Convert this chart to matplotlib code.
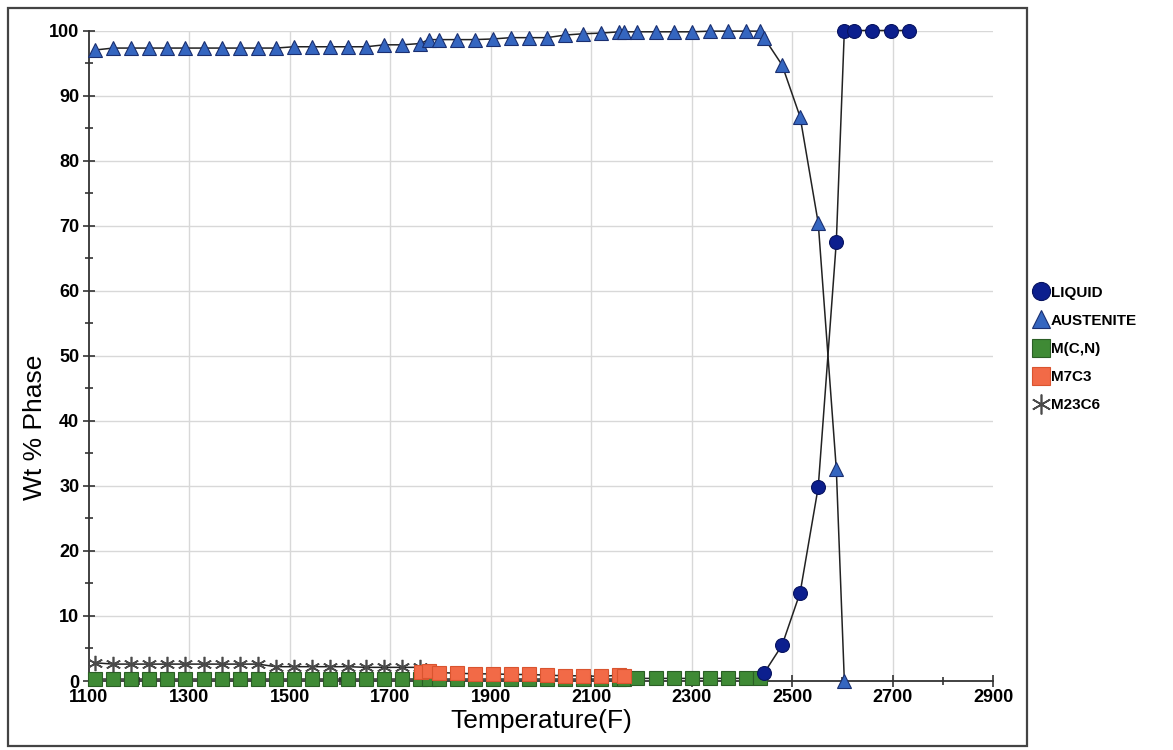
import matplotlib
matplotlib.use("Agg")
import matplotlib.pyplot as plt
from matplotlib.ticker import MultipleLocator
from matplotlib.patches import Rectangle

plt.rcParams['font.family'] = ['Liberation Sans', 'DejaVu Sans']

# ---- phase fraction data (temperature in F, weight percent) ----
liquid_T = [2444, 2480, 2516, 2552, 2588, 2604, 2624, 2660, 2696, 2732]
liquid_wt = [1.2, 5.5, 13.6, 29.8, 67.5, 100.0, 100.0, 100.0, 100.0, 100.0]

austenite_T = [1112, 1148, 1184, 1220, 1256, 1292, 1328, 1364, 1400, 1436,
               1472, 1508, 1544, 1580, 1616, 1652, 1688, 1724, 1760, 1776,
               1796, 1832, 1868, 1904, 1940, 1976, 2012, 2048, 2084, 2120,
               2156, 2165, 2192, 2228, 2264, 2300, 2336, 2372, 2408, 2437,
               2444, 2480, 2516, 2552, 2588, 2604]
austenite_wt = [97.0, 97.3, 97.3, 97.3, 97.3, 97.3, 97.3, 97.3, 97.3, 97.3,
                97.3, 97.5, 97.5, 97.5, 97.5, 97.5, 97.8, 97.8, 98.0, 98.6,
                98.6, 98.6, 98.6, 98.7, 98.9, 98.9, 98.9, 99.3, 99.5, 99.6,
                99.8, 99.8, 99.8, 99.8, 99.8, 99.8, 99.9, 99.9, 99.9, 99.9,
                98.9, 94.7, 86.7, 70.4, 32.6, 0.0]

mcn_T = [1112, 1148, 1184, 1220, 1256, 1292, 1328, 1364, 1400, 1436,
         1472, 1508, 1544, 1580, 1616, 1652, 1688, 1724, 1760, 1776,
         1796, 1832, 1868, 1904, 1940, 1976, 2012, 2048, 2084, 2120,
         2156, 2165, 2192, 2228, 2264, 2300, 2336, 2372, 2408, 2437]
mcn_wt = [0.3, 0.3, 0.3, 0.3, 0.3, 0.3, 0.3, 0.3, 0.3, 0.3,
          0.3, 0.3, 0.3, 0.3, 0.3, 0.3, 0.3, 0.3, 0.3, 0.3,
          0.3, 0.3, 0.3, 0.3, 0.3, 0.3, 0.3, 0.3, 0.3, 0.3,
          0.3, 0.3, 0.4, 0.4, 0.4, 0.4, 0.4, 0.4, 0.4, 0.4]

m7c3_T = [1762, 1776, 1796, 1832, 1868, 1904, 1940, 1976, 2012, 2048,
          2084, 2120, 2156, 2165]
m7c3_wt = [1.4, 1.6, 1.3, 1.2, 1.1, 1.1, 1.0, 1.0, 0.9, 0.8,
           0.8, 0.7, 0.9, 0.7]

m23c6_T = [1112, 1148, 1184, 1220, 1256, 1292, 1328, 1364, 1400, 1436,
           1472, 1508, 1544, 1580, 1616, 1652, 1688, 1724, 1760]
m23c6_wt = [2.8, 2.6, 2.6, 2.6, 2.6, 2.6, 2.6, 2.6, 2.6, 2.6,
            2.2, 2.2, 2.2, 2.2, 2.2, 2.1, 2.1, 2.1, 2.1]

x_ticks = [1100, 1300, 1500, 1700, 1900, 2100, 2300, 2500, 2700, 2900]
y_ticks = [0, 10, 20, 30, 40, 50, 60, 70, 80, 90, 100]

fig = plt.figure(figsize=(11.73, 7.5), dpi=100)
ax = fig.add_axes([89 / 1173, 1 - 681 / 750, (993 - 89) / 1173, (681 - 30.5) / 750])

line_kw = dict(color='#222222', linewidth=1.1, clip_on=False)

ax.plot(m23c6_T, m23c6_wt, marker=(6, 2, 0), markersize=11,
        markeredgecolor='#4a4a4a', markeredgewidth=1.2, label='M23C6',
        zorder=3, **line_kw)
ax.plot(mcn_T, mcn_wt, marker='s', markersize=9.5, markerfacecolor='#3f8a35',
        markeredgecolor='#2b5e25', markeredgewidth=0.8, label='M(C,N)',
        zorder=4, **line_kw)
ax.plot(m7c3_T, m7c3_wt, marker='s', markersize=9.5, markerfacecolor='#f26a47',
        markeredgecolor='#d9542f', markeredgewidth=0.8, label='M7C3',
        zorder=5, **line_kw)
ax.plot(austenite_T, austenite_wt, marker='^', markersize=10.5,
        markerfacecolor='#3566c0', markeredgecolor='#1a2f70',
        markeredgewidth=0.8, label='AUSTENITE', zorder=6, **line_kw)
ax.plot(liquid_T, liquid_wt, marker='o', markersize=10,
        markerfacecolor='#0c1f8e', markeredgecolor='#081460',
        markeredgewidth=0.8, label='LIQUID', zorder=7, **line_kw)

ax.set_xlim(1100, 2900)
ax.set_ylim(0, 100)
ax.set_xticks(x_ticks)
ax.set_yticks(y_ticks)
ax.xaxis.set_minor_locator(MultipleLocator(100))
ax.yaxis.set_minor_locator(MultipleLocator(5))
ax.tick_params(axis='both', which='major', direction='inout', length=8,
               width=1.2, color='#333333', labelsize=13)
ax.tick_params(axis='x', which='major', pad=2)
ax.tick_params(axis='y', which='major', pad=3)
ax.tick_params(axis='both', which='minor', direction='inout', length=6,
               width=1.2, color='#333333')
for lab in ax.get_xticklabels() + ax.get_yticklabels():
    lab.set_fontweight('bold')

# light grid, skipping the lines that sit on the plot edges
for xv in x_ticks[1:-1]:
    ax.axvline(xv, color='#d8d8d8', linewidth=1.0, zorder=0)
for yv in y_ticks[1:]:
    ax.axhline(yv, color='#d8d8d8', linewidth=1.0, zorder=0)

for side in ('top', 'right'):
    ax.spines[side].set_visible(False)
for side in ('left', 'bottom'):
    ax.spines[side].set_color('#333333')
    ax.spines[side].set_linewidth(1.3)

ax.set_xlabel('Temperature(F)', fontsize=19, labelpad=2)
ax.set_ylabel('Wt % Phase', fontsize=19)
ax.yaxis.set_label_coords(-0.047, 0.39)

# chart border around the plot region
fig.patches.append(Rectangle((8 / 1173, 1 - 746 / 750), (1027 - 8) / 1173,
                             (746 - 8) / 750, transform=fig.transFigure,
                             fill=False, edgecolor='#444444', linewidth=1.6))

handles, labels = ax.get_legend_handles_labels()
order = ['LIQUID', 'AUSTENITE', 'M(C,N)', 'M7C3', 'M23C6']
hl = {l: h for h, l in zip(handles, labels)}
leg_handles = []
for name in order:
    h = hl[name]
    proxy = plt.Line2D([], [], linestyle='none', marker=h.get_marker(),
                       markersize=h.get_markersize() * 1.3,
                       markerfacecolor=h.get_markerfacecolor(),
                       markeredgecolor=h.get_markeredgecolor(),
                       markeredgewidth=h.get_markeredgewidth())
    leg_handles.append(proxy)
fig.legend(leg_handles, order, loc='upper left',
           bbox_to_anchor=(1020 / 1173, 1 - 272 / 750), frameon=False,
           handlelength=1.0, handletextpad=0.1, labelspacing=0.92,
           prop={'weight': 'bold', 'size': 11})

fig.savefig('out.png', dpi=100)
